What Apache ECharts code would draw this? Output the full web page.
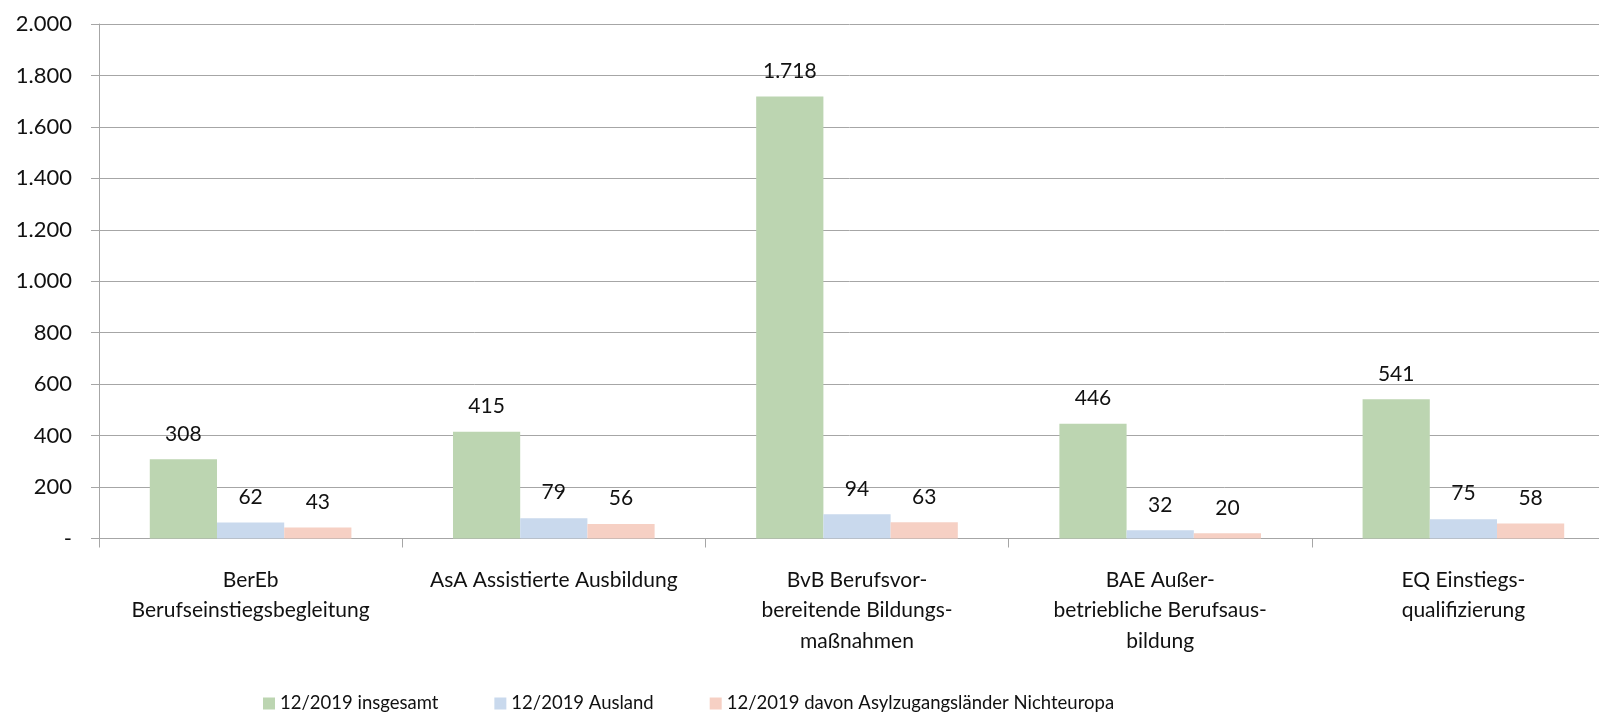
<!DOCTYPE html>
<html>
<head>
<meta charset="utf-8">
<script src="https://cdn.jsdelivr.net/npm/echarts@6/dist/echarts.min.js"></script>
<style>
  html, body { margin: 0; padding: 0; background: #fff; }
  #chart { width: 1599px; height: 715px; }
</style>
</head>
<body>
<div id="chart"></div>
<script>
const categories = [
  'BerEb\nBerufseinstiegsbegleitung',
  'AsA Assistierte Ausbildung',
  'BvB Berufsvor-\nbereitende Bildungs-\nmaßnahmen',
  'BAE Außer-\nbetriebliche Berufsaus-\nbildung',
  'EQ Einstiegs-\nqualifizierung'
]
const seriesNames = ['12/2019 insgesamt', '12/2019 Ausland', '12/2019 davon Asylzugangsländer Nichteuropa']
const insgesamt = [308, 415, 1718, 446, 541]
const ausland = [62, 79, 94, 32, 75]
const asyl = [43, 56, 63, 20, 58]
const colors = ['#bcd5b1', '#c9d9ed', '#f6d0c4']

const font = 'Lato'
const fmt = v => v === 0 ? '-' : String(v).replace(/\B(?=(\d{3})+(?!\d))/g, '.')

const chart = echarts.init(document.getElementById('chart'))

const makeSeries = (name, data, color) => ({
  name,
  type: 'bar',
  data,
  barGap: 0,
  barCategoryGap: '33.5%',
  itemStyle: { color },
  label: {
    show: true,
    position: 'top',
    distance: 15,
    formatter: p => fmt(p.value),
    color: '#111',
    fontFamily: font,
    fontSize: 21
  }
})

chart.setOption({
  animation: false,
  textStyle: { fontFamily: font },
  // plot area runs past the right edge, like the cropped original
  grid: { left: 99, top: 24, width: 1516, height: 514.5, containLabel: false, outerBoundsMode: 'none' },
  legend: {
    top: 689,
    left: 258,
    itemWidth: 12,
    itemHeight: 12,
    itemGap: 56,
    icon: 'rect',
    textStyle: { fontFamily: font, fontSize: 18.5, color: '#111' },
    data: seriesNames
  },
  xAxis: {
    type: 'category',
    data: categories,
    boundaryGap: true,
    axisLine: { lineStyle: { color: '#a6a6a6', width: 1 } },
    axisTick: { show: true, interval: 0, length: 9, lineStyle: { color: '#a6a6a6' } },
    axisLabel: {
      interval: 0,
      margin: 26,
      color: '#111',
      fontFamily: font,
      fontSize: 21,
      lineHeight: 30.6
    }
  },
  yAxis: {
    type: 'value',
    min: 0,
    max: 2000,
    interval: 200,
    axisLine: { show: true, lineStyle: { color: '#a6a6a6' } },
    axisTick: { show: true, length: 8, lineStyle: { color: '#a6a6a6' } },
    splitLine: { lineStyle: { color: '#a6a6a6', width: 1 } },
    axisLabel: {
      margin: 27,
      color: '#111',
      fontFamily: font,
      fontSize: 22,
      formatter: fmt
    }
  },
  series: [
    makeSeries(seriesNames[0], insgesamt, colors[0]),
    makeSeries(seriesNames[1], ausland, colors[1]),
    makeSeries(seriesNames[2], asyl, colors[2])
  ]
})
</script>
</body>
</html>
